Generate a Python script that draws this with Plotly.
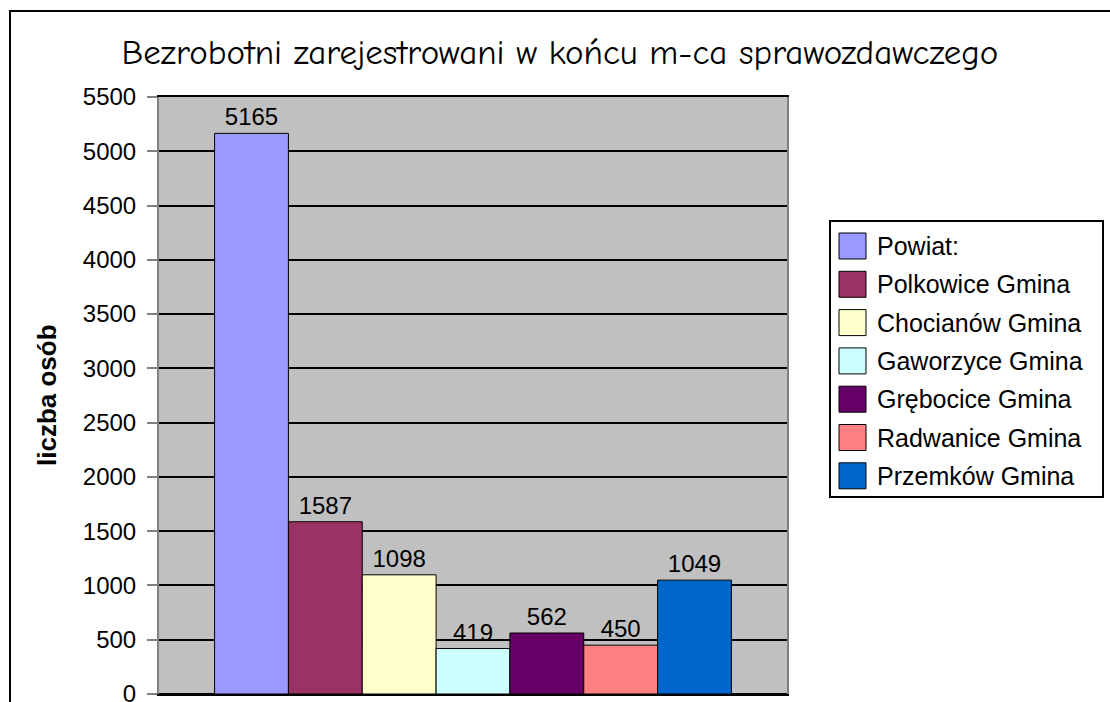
import plotly.graph_objects as go

# ---- data ----
series_names = ["Powiat:", "Polkowice Gmina", "Chocianów Gmina", "Gaworzyce Gmina",
                "Grębocice Gmina", "Radwanice Gmina", "Przemków Gmina"]
series_values = [5165, 1587, 1098, 419, 562, 450, 1049]
series_colors = ["#9999FF", "#993366", "#FFFFCC", "#CCFFFF", "#660066", "#FF8080", "#0066CC"]
category = [""]
y_ticks = [0, 500, 1000, 1500, 2000, 2500, 3000, 3500, 4000, 4500, 5000, 5500]
title_text = "Bezrobotni zarejestrowani w końcu m-ca sprawozdawczego"
y_title = "liczba osób"

W, H = 1110, 702
L, R, T, B = 159, 787, 97, 694  # plot area pixels


def xp(px):
    return (px - L) / (R - L)


def yp(py):
    return (B - py) / (B - T)


FONT = "Arial, Liberation Sans, sans-serif"

fig = go.Figure()
for name, val, col in zip(series_names, series_values, series_colors):
    fig.add_trace(go.Bar(
        x=category, y=[val], name=name,
        marker=dict(color=col, line=dict(color="black", width=1)),
        text=[str(val)], textposition="outside",
        textfont=dict(family=FONT, size=24, color="black"),
        cliponaxis=False, showlegend=False,
    ))

shapes = []
annotations = []

# outer frame of chart (open at right/bottom as in image)
shapes.append(dict(type="rect", xref="paper", yref="paper",
                   x0=xp(10), x1=xp(1125), y0=yp(715), y1=yp(11),
                   line=dict(color="black", width=2), fillcolor="rgba(0,0,0,0)", layer="above"))

# legend box
lx0, lx1, ly0, ly1 = 830, 1103, 221, 497
shapes.append(dict(type="rect", xref="paper", yref="paper",
                   x0=xp(lx0), x1=xp(lx1), y0=yp(ly1), y1=yp(ly0),
                   line=dict(color="black", width=2), fillcolor="white"))
row0, step = 246, 38.3
for i, (name, col) in enumerate(zip(series_names, series_colors)):
    cy = row0 + i * step
    shapes.append(dict(type="rect", xref="paper", yref="paper",
                       x0=xp(839), x1=xp(866), y0=yp(cy + 13), y1=yp(cy - 13),
                       line=dict(color="black", width=1), fillcolor=col))
    annotations.append(dict(text=name, xref="paper", yref="paper",
                            x=xp(875), y=yp(cy), xanchor="left", yanchor="middle",
                            showarrow=False, font=dict(family=FONT, size=25, color="black")))

# y axis title
annotations.append(dict(text="<b>" + y_title + "</b>", xref="paper", yref="paper",
                        x=xp(47), y=yp(395), xanchor="center", yanchor="middle", textangle=-90,
                        showarrow=False, font=dict(family=FONT, size=26, color="black")))

fig.update_layout(
    width=W, height=H,
    margin=dict(l=L, r=W - R, t=T, b=H - B, autoexpand=False),
    paper_bgcolor="white", plot_bgcolor="#C0C0C0",
    barmode="group", bargap=0.177, bargroupgap=0,
    title=dict(text=title_text, xref="container", yref="container",
               x=560 / W, y=(H - 52) / H, xanchor="center", yanchor="middle",
               font=dict(family="Comic Sans MS, Comic Neue, DejaVu Sans, sans-serif", size=35, color="black")),
    xaxis=dict(showticklabels=False, ticks="", showgrid=False,
               showline=True, linecolor="black", linewidth=2, mirror=True, fixedrange=True),
    yaxis=dict(range=[0, 5500], tickvals=y_ticks, ticktext=[str(v) for v in y_ticks],
               ticks="outside", ticklen=10, tickcolor="#808080", tickwidth=1.5,
               ticklabelstandoff=6, ticklabeloverflow="allow",
               tickfont=dict(family=FONT, size=24, color="black"),
               showgrid=True, gridcolor="black", gridwidth=2,
               zeroline=True, zerolinecolor="black", zerolinewidth=2,
               showline=True, linecolor="#808080", linewidth=2, mirror=True),
    shapes=shapes, annotations=annotations,
    showlegend=False,
)

fig.write_html("out.html", config={"displayModeBar": False},
               post_script="document.body.style.margin='0';document.body.style.overflow='hidden';")
